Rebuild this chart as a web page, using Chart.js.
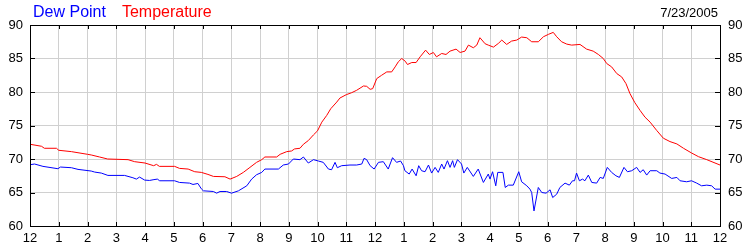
<!DOCTYPE html>
<html>
<head>
<meta charset="utf-8">
<script src="https://cdn.jsdelivr.net/npm/chart.js@4/dist/chart.umd.min.js"></script>
<style>
  body { margin: 0; background: #fff; }
  #wrap { position: relative; width: 750px; height: 250px; font-family: Arial, "Liberation Sans", sans-serif; }
  #title { position: absolute; left: 33px; top: 4px; font-size: 16px; line-height: 16px; white-space: nowrap; }
  #date { position: absolute; right: 32px; top: 6px; font-size: 13px; line-height: 13px; color: #000; }
</style>
</head>
<body>
<div id="wrap">
  <canvas id="myChart" width="750" height="250"></canvas>
  <div id="title"><span style="color:#0000ff">Dew Point</span><span style="color:#ff0000; margin-left:16px">Temperature</span></div>
  <div id="date">7/23/2005</div>
</div>
<script>
let hourLabels = ['12','1','2','3','4','5','6','7','8','9','10','11','12','1','2','3','4','5','6','7','8','9','10','11','12'];
let yTicks = [60, 65, 70, 75, 80, 85, 90];

// hours since midnight, temperature in F
let tempHours = [0, 0.4, 0.5, 0.92, 1.0, 1.44, 2.0, 2.13, 2.42, 2.7, 3.41, 3.64, 4.0, 4.3, 4.4, 4.5, 5.03, 5.2, 5.5, 5.73, 5.96, 6.19,
  6.38, 6.78, 6.96, 7.19, 7.42, 7.65, 7.88, 8.06, 8.17, 8.58, 8.7, 8.93, 9.1, 9.2, 9.39, 9.51, 9.68, 9.86, 10.0,
  10.15, 10.32, 10.46, 10.67, 10.78, 11.0, 11.19, 11.36, 11.6, 11.71, 11.83, 11.92, 12.06, 12.23, 12.41, 12.58,
  12.7, 12.81, 12.93, 13.05, 13.13, 13.28, 13.43, 13.57, 13.76, 13.89, 14.03, 14.14, 14.32, 14.47, 14.61, 14.82,
  14.96, 15.13, 15.25, 15.42, 15.54, 15.65, 15.83, 15.94, 16.12, 16.29, 16.41, 16.58, 16.75, 16.93, 17.1, 17.28,
  17.45, 17.68, 17.86, 18.03, 18.2, 18.32, 18.49, 18.67, 18.84, 19.13, 19.36, 19.59, 19.77, 19.94, 20.06, 20.23,
  20.41, 20.58, 20.73, 20.87, 21.04, 21.22, 21.39, 21.57, 21.8, 22.03, 22.26, 22.5, 22.73, 23.01, 23.25, 23.54, 24.0];
let temperature = [72.2, 71.9, 71.6, 71.6, 71.3, 71.1, 70.7, 70.6, 70.3, 70.0, 69.9, 69.6, 69.4, 69.0, 69.2, 68.9, 68.9, 68.6, 68.5, 68.1, 68.0, 67.7,
  67.4, 67.35, 67.0, 67.4, 68.0, 68.75, 69.5, 69.9, 70.3, 70.3, 70.7, 71.1, 71.2, 71.5, 71.6, 72.2, 72.75, 73.6, 74.2,
  75.5, 76.5, 77.5, 78.5, 79.1, 79.6, 79.9, 80.25, 80.9, 80.85, 80.4, 80.5, 82.0, 82.5, 83.0, 83.0,
  83.75, 84.5, 85.0, 84.6, 84.1, 84.4, 84.4, 85.25, 86.25, 85.6, 85.9, 85.25, 85.75, 85.6, 86.1, 86.4,
  85.9, 86.1, 87.0, 86.6, 87.0, 88.1, 87.2, 87.0, 86.7, 87.25, 87.75, 87.1, 87.6, 87.75, 88.2, 88.1,
  87.5, 87.5, 88.25, 88.6, 88.9, 88.25, 87.5, 87.15, 87.0, 87.1, 86.4, 86.1, 85.6, 85.0, 84.25, 83.75,
  82.75, 82.25, 81.25, 79.75, 78.4, 77.25, 76.25, 75.5, 74.25, 73.1, 72.6, 72.25, 71.6, 70.9, 70.35, 69.9, 69.1];

// hours since midnight, dew point in F
let dewHours = [0, 0.16, 0.45, 0.97, 1.06, 1.44, 1.67, 2.13, 2.25, 2.48, 2.71, 3.29, 3.58, 3.7, 3.81, 3.99, 4.16, 4.28, 4.43, 4.51,
  5.03, 5.2, 5.55, 5.67, 5.84, 5.96, 6.03, 6.38, 6.49, 6.61, 6.84, 7.01, 7.25, 7.54, 7.71, 7.88, 8.06, 8.17, 8.64, 8.81,
  8.99, 9.16, 9.39, 9.51, 9.68, 9.86, 10.03, 10.2, 10.38, 10.49, 10.61, 10.69, 10.84, 11.13, 11.36, 11.54, 11.62, 11.71,
  11.83, 11.97, 12.12, 12.29, 12.46, 12.61, 12.75, 12.89, 12.99, 13.04, 13.19, 13.29, 13.43, 13.52, 13.62, 13.74,
  13.86, 13.97, 14.09, 14.2, 14.32, 14.4, 14.52, 14.61, 14.7, 14.76, 14.87, 15.01, 15.09, 15.21, 15.42, 15.59,
  15.77, 15.94, 16.0, 16.09, 16.2, 16.27, 16.45, 16.53, 16.64, 16.81, 17.0, 17.1, 17.28, 17.39, 17.45, 17.53,
  17.68, 17.8, 17.95, 18.09, 18.18, 18.32, 18.43, 18.61, 18.76, 18.87, 18.94, 19.01, 19.11, 19.22, 19.3, 19.42,
  19.54, 19.71, 19.83, 19.94, 20.08, 20.23, 20.38, 20.5, 20.66, 20.78, 20.93, 21.1, 21.22, 21.33, 21.45, 21.57,
  21.8, 21.91, 22.09, 22.32, 22.5, 22.61, 22.84, 23.01, 23.19, 23.36, 23.54, 23.71, 23.83, 24.0];
let dewPoint = [69.15, 69.25, 68.9, 68.55, 68.8, 68.7, 68.45, 68.2, 68.05, 67.9, 67.55, 67.55, 67.2, 67.0, 67.3, 66.85, 66.8, 66.9, 67.0, 66.75,
  66.75, 66.5, 66.4, 66.2, 66.35, 65.55, 65.25, 65.15, 64.9, 65.15, 65.15, 64.9, 65.25, 66.0, 67.0, 67.65, 68.0, 68.5, 68.5, 69.1,
  69.25, 70.0, 69.9, 70.3, 69.4, 69.9, 69.7, 69.5, 68.5, 68.4, 69.5, 68.7, 69.0, 69.1, 69.1, 69.25, 70.1, 69.9,
  69.0, 68.5, 69.5, 69.6, 68.5, 70.2, 69.5, 69.7, 69.0, 68.25, 67.75, 68.5, 67.5, 69.0, 68.25, 68.1,
  69.1, 67.9, 68.75, 68.0, 69.25, 68.5, 69.75, 68.75, 69.75, 68.75, 69.9, 69.25, 67.9, 68.75, 67.4, 68.5,
  66.5, 67.75, 67.0, 68.1, 66.0, 68.0, 68.0, 65.75, 66.1, 66.1, 68.1, 66.6, 66.0, 65.5, 65.0, 62.25,
  65.75, 65.0, 64.9, 65.4, 64.25, 64.75, 65.75, 66.4, 66.1, 66.75, 66.75, 67.9, 66.75, 67.0, 66.75, 67.6,
  66.5, 66.4, 67.25, 67.1, 68.75, 68.0, 67.5, 67.25, 68.75, 68.1, 68.25, 68.75, 68.0, 68.4, 67.6, 68.25,
  68.25, 67.9, 67.75, 67.1, 67.25, 66.75, 66.6, 66.75, 66.4, 66.0, 66.1, 66.0, 65.5, 65.5];

function toPoints(xs, ys) {
	return xs.map((x, i) => ({x: x, y: ys[i]}));
}

// black frame and short inner tick marks
let frameTicks = {
	id: 'frameTicks',
	afterDatasetsDraw(chart) {
		let ctx = chart.ctx;
		let a = chart.chartArea;
		let x = chart.scales.x, y = chart.scales.y;
		ctx.save();
		ctx.strokeStyle = '#000';
		ctx.lineWidth = 1;
		ctx.beginPath();
		for (let h = 1; h < hourLabels.length - 1; h++) {
			let px = Math.round(x.getPixelForValue(h)) + 0.5;
			ctx.moveTo(px, a.bottom); ctx.lineTo(px, a.bottom - 4);
			ctx.moveTo(px, a.top); ctx.lineTo(px, a.top + 4);
		}
		yTicks.slice(1, -1).forEach(v => {
			let py = Math.round(y.getPixelForValue(v)) + 0.5;
			ctx.moveTo(a.left, py); ctx.lineTo(a.left + 5, py);
			ctx.moveTo(a.right, py); ctx.lineTo(a.right - 5, py);
		});
		ctx.stroke();
		ctx.strokeRect(Math.round(a.left) + 0.5, Math.round(a.top) + 0.5,
			Math.round(a.right - a.left), Math.round(a.bottom - a.top));
		ctx.restore();
	}
};

let tickFont = {family: 'Arial, "Liberation Sans", sans-serif', size: 13};

let ctx = document.getElementById('myChart').getContext('2d');
let myChart = new Chart(ctx, {
	type: 'line',
	data: {
		datasets: [{
			label: 'Temperature',
			data: toPoints(tempHours, temperature),
			borderColor: '#ff0000',
			borderWidth: 1,
			pointRadius: 0,
			tension: 0
		}, {
			label: 'Dew Point',
			data: toPoints(dewHours, dewPoint),
			borderColor: '#0000ff',
			borderWidth: 1,
			pointRadius: 0,
			tension: 0
		}]
	},
	options: {
		responsive: false,
		animation: false,
		layout: {padding: {top: 25, left: 0, right: 0, bottom: 0}},
		plugins: {
			legend: {display: false},
			title: {display: false},
			tooltip: {enabled: false}
		},
		scales: {
			x: {
				type: 'linear',
				min: 0,
				max: 24,
				afterFit: (s) => { s.height = 24; },
				border: {display: false},
				grid: {color: '#d0d0d0', drawTicks: false},
				ticks: {
					stepSize: 1,
					autoSkip: false,
					maxRotation: 0,
					padding: 5,
					color: '#000',
					font: tickFont,
					callback: (v) => hourLabels[v]
				}
			},
			y: {
				position: 'left',
				min: 60,
				max: 90,
				afterFit: (s) => { s.width = 30; },
				border: {display: false},
				grid: {color: '#d0d0d0', drawTicks: false},
				ticks: {stepSize: 5, padding: 7, color: '#000', font: tickFont}
			},
			y2: {
				position: 'right',
				min: 60,
				max: 90,
				afterFit: (s) => { s.width = 30; },
				border: {display: false},
				grid: {display: false, drawTicks: false},
				ticks: {stepSize: 5, padding: 8, color: '#000', font: tickFont}
			}
		}
	},
	plugins: [frameTicks]
});
</script>
</body>
</html>
